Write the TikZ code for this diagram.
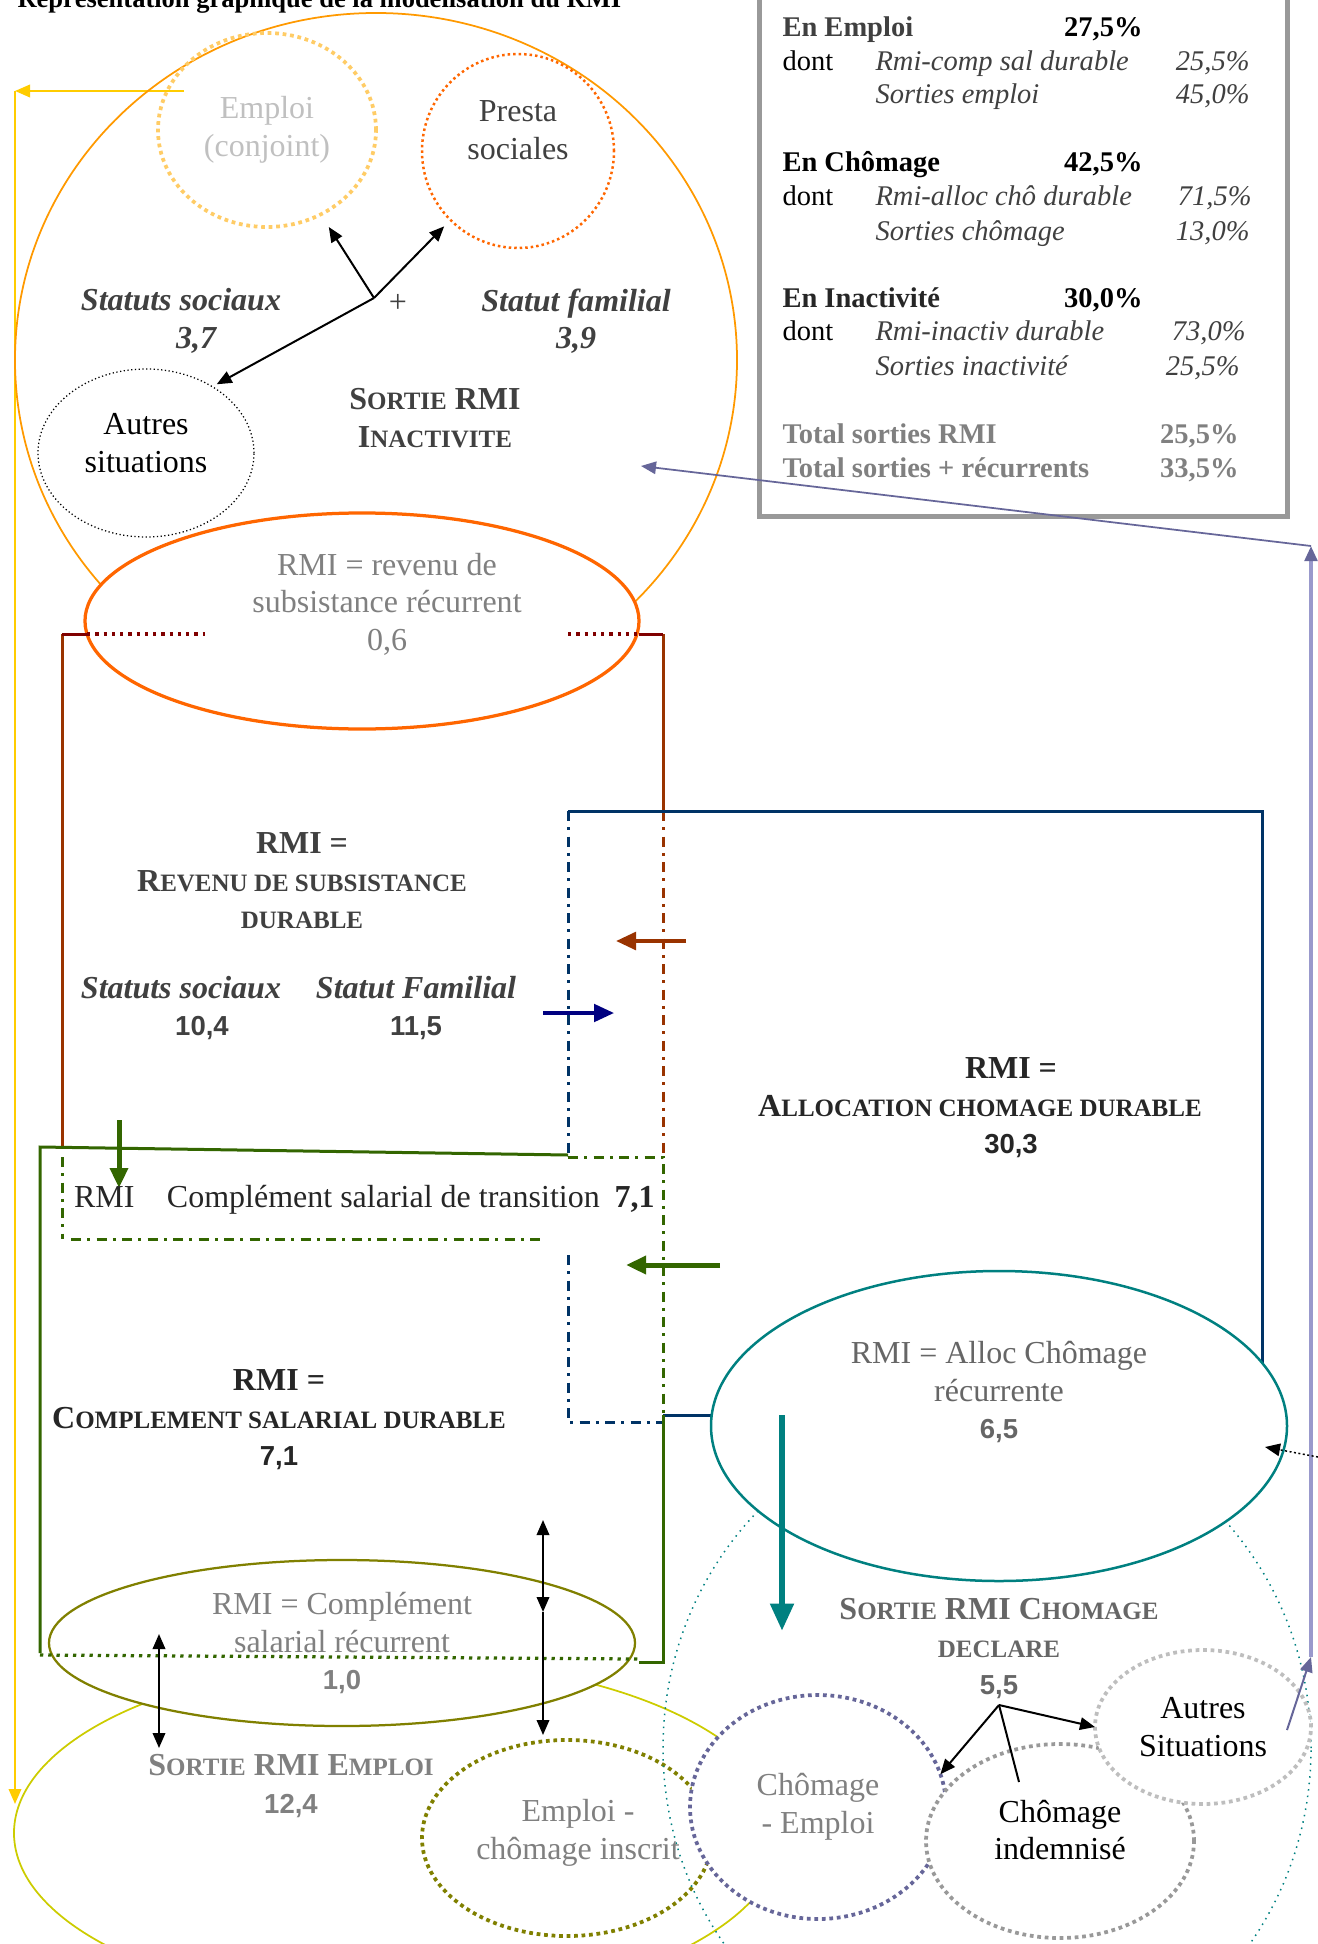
\documentclass[tikz,border=0pt]{standalone}
\usepackage{fontspec}
\setmainfont{Liberation Serif}
\setsansfont{Liberation Sans}
\usetikzlibrary{shapes.geometric,arrows.meta,positioning,calc}
\definecolor{dark}{RGB}{64,64,64}
\definecolor{ink}{RGB}{38,38,38}
\definecolor{mid}{RGB}{128,128,128}
\definecolor{grey6}{RGB}{102,102,102}
\definecolor{palegray}{RGB}{192,192,192}
\definecolor{orangeline}{RGB}{255,153,0}
\definecolor{paleorange}{RGB}{255,204,102}
\definecolor{redline}{RGB}{255,102,0}
\definecolor{brownline}{RGB}{153,51,0}
\definecolor{maroonline}{RGB}{128,0,0}
\definecolor{navyline}{RGB}{0,51,102}
\definecolor{deepblue}{RGB}{0,0,128}
\definecolor{leaf}{RGB}{51,102,0}
\definecolor{oliveline}{RGB}{128,128,0}
\definecolor{yellowline}{RGB}{204,204,0}
\definecolor{gold}{RGB}{255,204,0}
\definecolor{tealline}{RGB}{0,128,128}
\definecolor{lavender}{RGB}{102,102,153}
\definecolor{palelav}{RGB}{153,153,204}
\definecolor{frame}{RGB}{153,153,153}
\definecolor{greyC}{RGB}{190,190,190}
\newcommand{\petit}[1]{{\fontsize{10}{12}\selectfont #1}}
\newcommand{\chiffre}[1]{{\fontsize{11}{13}\selectfont\sffamily\bfseries\upshape #1}}

\begin{document}
\begin{tikzpicture}[
    x=0.4pt, y=-0.4pt,
    >={Triangle[length=6pt,width=5pt]},
    radii/.style 2 args={minimum width=#1*0.8pt, minimum height=#2*0.8pt},
    bubble/.style={ellipse, inner sep=0pt, outer sep=0pt, align=center,
        font=\fontsize{12.8}{15}\selectfont},
    ring/.style={bubble, line width=1.5pt, dash pattern=on 1.5pt off 1.5pt},
    body/.style={align=center, inner sep=1pt, font=\fontsize{12.8}{15}\selectfont},
    head/.style={body, font=\fontsize{12.8}{15}\selectfont\bfseries},
    status/.style={body, font=\fontsize{12.8}{15}\selectfont\bfseries\itshape, text=dark},
    cell/.style={anchor=base west, inner sep=0pt, font=\fontsize{11.4}{13}\selectfont},
    cellb/.style={cell, font=\fontsize{11.4}{13}\selectfont\bfseries},
    celli/.style={cell, font=\fontsize{11.4}{13}\selectfont\itshape, text=dark},
    flow/.style={->, line width=0.8pt},
    bold arrow/.style={-{Triangle[length=8pt,width=7pt]}, line width=2pt},
    boxline/.style={line width=1.2pt},
    dashdot/.style={line width=1.2pt, dash pattern=on 4pt off 2.5pt on 1.2pt off 2.5pt}
]
\useasboundingbox (0,0) rectangle (1318,1944);
\clip (0,0) rectangle (1318,1944);

\node[anchor=base west, inner sep=0pt, font=\fontsize{10.6}{12}\selectfont\bfseries]
    (title) at (17,8) {Représentation graphique de la modélisation du RMI};

% Renvoi vers la sortie emploi
\coordinate (gold0) at (184,91);
\coordinate (gold1) at (15,91);
\coordinate (gold2) at (15,1804);
\draw[flow, gold] (gold0) -- (gold1);
\draw[flow, gold] (gold1) -- (gold2);

% Sortie RMI inactivite
\node[bubble, radii={361}{347}, draw=orangeline, line width=0.7pt] (inact) at (376,360) {};
\node[ring, radii={109}{97}, draw=paleorange, text=palegray] (conjoint) at (267,130) {Emploi\\(conjoint)};
\node[bubble, radii={96}{97}, draw=redline, line width=1pt, dash pattern=on 1pt off 1.2pt] (presta) at (518,151) {};
\node[body, text=dark] (prestatxt) at ([yshift=8.4pt]presta.center) {Presta\\sociales};
\node[bubble, radii={108}{84}, draw, line width=0.5pt, densely dotted] (autres) at (146,453) {};
\node[body] (autrestxt) at ([yshift=4pt]autres.center) {Autres\\situations};

\coordinate (j1) at (374,298);
\draw[flow, shorten >=6pt] (j1) -- (conjoint);
\draw[flow, shorten >=3.6pt] (j1) -- (presta);
\draw[flow, shorten >=2pt] (j1) -- (autres.45);
\node[body, text=dark] (plus) at (398,303) {+};

\node[status] (statsoc) at (181,321) {Statuts sociaux\\\hspace*{12pt}3,7};
\node[status] (statfam) at (576,321) {Statut familial\\3,9};
\node[head, text=dark] (inacttxt) at (435,418) {S\petit{ORTIE} RMI\\I\petit{NACTIVITE}};

% Tableau recapitulatif
\draw[frame, line width=2pt] (759,-20) rectangle (1287,516);
\node[cellb, text=dark] (enemp) at (782,37) {En Emploi};
\node[cellb, anchor=base east] (enempv) at (1143,37) {27,5\%};
\node[cell] (dont1) at (782,71) {dont};
\node[celli] (rmicomp) at (875,71) {Rmi-comp sal durable};
\node[celli, anchor=base east] (rmicompv) at (1250,71) {25,5\%};
\node[celli] (sortemp) at (875,104) {Sorties emploi};
\node[celli, anchor=base east] (sortempv) at (1250,104) {45,0\%};
\node[cellb] (encho) at (782,172) {En Chômage};
\node[cellb, anchor=base east] (enchov) at (1143,172) {42,5\%};
\node[cell] (dont2) at (782,206) {dont};
\node[celli] (rmialloc) at (875,206) {Rmi-alloc chô durable};
\node[celli, anchor=base east] (rmiallocv) at (1252,206) {71,5\%};
\node[celli] (sortcho) at (875,241) {Sorties chômage};
\node[celli, anchor=base east] (sortchov) at (1250,241) {13,0\%};
\node[cellb, text=ink] (eninact) at (782,308) {En Inactivité};
\node[cellb, anchor=base east] (eninactv) at (1143,308) {30,0\%};
\node[cell] (dont3) at (782,341) {dont};
\node[celli] (rmiinact) at (875,341) {Rmi-inactiv durable};
\node[celli, anchor=base east] (rmiinactv) at (1246,341) {73,0\%};
\node[celli] (sortinact) at (875,376) {Sorties inactivité};
\node[celli, anchor=base east] (sortinactv) at (1240,376) {25,5\%};
\node[cellb, text=mid] (totrmi) at (782,443) {Total sorties RMI};
\node[cellb, text=mid, anchor=base east] (totrmiv) at (1239,443) {25,5\%};
\node[cellb, text=mid] (totrec) at (782,477) {Total sorties + récurrents};
\node[cellb, text=mid, anchor=base east] (totrecv) at (1239,477) {33,5\%};

% Revenu de subsistance durable
\coordinate (rsTL) at (62,634);
\coordinate (rsTR) at (663,634);
\coordinate (rsBL) at (62,1147);
\coordinate (acTL) at (568,811);
\coordinate (acTR) at (1262,811);
\draw[boxline, brownline] (rsTL) -- (rsBL);
\draw[boxline, brownline] (rsTR) -- (rsTR |- acTL);
\draw[dashdot, brownline] (rsTR |- acTL) -- (663,1153);

\node[bubble, radii={277}{108}, draw=redline, line width=1.3pt, fill=white] (recur1) at (362,621) {};
\draw[boxline, maroonline] (rsTL) -- (87,634);
\draw[maroonline, line width=1.3pt, dotted] (87,634) -- (205,634);
\draw[maroonline, line width=1.3pt, dotted] (568,634) -- (639,634);
\draw[boxline, maroonline] (639,634) -- (rsTR);
\node[body, text=mid] (recur1txt) at ([xshift=10pt, yshift=6.8pt]recur1.center)
    {RMI = revenu de\\subsistance récurrent\\0,6};

% Allocation chomage durable
\draw[boxline, navyline] (acTL) -- (acTR) -- (1262,1380);
\draw[dashdot, navyline] (acTL) -- (568,1153);
\draw[dashdot, navyline] (568,1255) -- (568,1422) -- (663,1422);
\draw[boxline, navyline] (663,1415) -- (730,1415);

% Complement salarial
\draw[boxline, leaf] (568,1155) -- (40,1147) -- (40,1653);
\draw[boxline, leaf] (663,1415) -- (663,1662) -- (639,1662);
\draw[dashdot, leaf] (568,1157) -- (663,1157) -- (663,1415);
\draw[dashdot, leaf] (62,1157) -- (62,1239);
\draw[dashdot, leaf] (71,1239) -- (546,1239);

% Passages entre regimes
\coordinate (brs) at (686,941);
\coordinate (bre) at (616,941);
\coordinate (nvs) at (543,1013);
\coordinate (nve) at (614,1013);
\coordinate (grs) at (720,1265);
\coordinate (gre) at (626,1265);
\coordinate (gds) at (119,1120);
\coordinate (gde) at (119,1188);
\draw[bold arrow, brownline, line width=1.6pt] (brs) -- (bre);
\draw[bold arrow, deepblue, line width=1.4pt] (nvs) -- (nve);
\draw[bold arrow, leaf] (grs) -- (gre);
\draw[bold arrow, leaf] (gds) -- (gde);

\node[head, text=dark] (rsd) at (302,881) {RMI =\\R\petit{EVENU DE SUBSISTANCE}\\\petit{DURABLE}};
\node[status] (statsoc2) at (181,1008) {Statuts sociaux\\\hspace*{16.8pt}\chiffre{10,4}};
\node[status] (statfam2) at (416,1008) {Statut Familial\\\chiffre{11,5}};
\node[head, text=ink] (acd) at (980,1108)
    {\hspace*{24.8pt}RMI =\\A\petit{LLOCATION CHOMAGE DURABLE}\\\hspace*{24.8pt}\chiffre{30,3}};
\node[body, anchor=west, text=ink] (trans) at (71,1200)
    {RMI\hspace{13pt}Complément salarial de transition\hspace{6pt}\textbf{7,1}};
\node[head, text=ink] (csd) at (279,1420) {RMI =\\C\petit{OMPLEMENT SALARIAL DURABLE}\\\chiffre{7,1}};

% Sortie RMI emploi
\node[bubble, radii={384}{173}, draw=yellowline, line width=0.7pt] (empexit) at (398,1833) {};
\node[bubble, radii={293}{83}, draw=oliveline, line width=0.9pt, fill=white, text=mid]
    (recur3) at (342,1643) {RMI = Complément\\salarial récurrent\\\chiffre{1,0}};
\draw[leaf, line width=1.3pt, dotted] (40,1655) -- (639,1659);

\coordinate (da0) at (159,1634);
\coordinate (da1) at (159,1748);
\coordinate (db0) at (543,1520);
\coordinate (db1) at (543,1612);
\coordinate (db2) at (543,1735);
\draw[<->, line width=0.8pt] (da0) -- (da1);
\draw[<->, line width=0.8pt] (db0) -- (db1);
\draw[flow] (db1) -- (db2);

\node[head, text=mid] (empexittxt) at (291,1786) {S\petit{ORTIE} RMI E\petit{MPLOI}\\\chiffre{12,4}};
\node[ring, radii={145}{98}, draw=oliveline, fill=white] (empcho) at (567,1838) {};

% Sortie RMI chomage declare
\node[bubble, radii={324}{335}, draw=tealline, line width=0.6pt, dotted] (choexit) at (987,1748) {};
\node[bubble, radii={288}{155}, draw=tealline, line width=1pt, fill=white] (recur2) at (999,1426) {};
\node[body, text=grey6] (recur2txt) at ([yshift=13.6pt]recur2.center)
    {RMI = Alloc Chômage\\récurrente\\\chiffre{6,5}};
\coordinate (tl0) at (782,1415);
\coordinate (tl1) at (782,1631);
\draw[-{Triangle[length=11pt,width=9pt]}, line width=2.6pt, tealline] (tl0) -- (tl1);
\node[head, text=grey6] (choexittxt) at (999,1649) {S\petit{ORTIE} RMI C\petit{HOMAGE}\\\petit{DECLARE}\\\chiffre{5,5}};

\node[ring, radii={128}{112}, draw=lavender, fill=white, text=mid] (choemp) at (818,1807) {Chômage\\- Emploi};
\node[body, text=mid] (empchotxt) at ([xshift=4.4pt, yshift=2pt]empcho.center) {Emploi -\\chômage inscrit};
\node[ring, radii={134}{97}, draw=frame, fill=white] (indemn) at (1060,1841) {};
\node[body] (indemntxt) at ([yshift=4.4pt]indemn.center) {Chômage\\indemnisé};
\node[ring, radii={108}{77}, draw=greyC, fill=white] (autres2) at (1203,1727) {Autres\\Situations};

\coordinate (j2) at (999,1705);
\coordinate (j2c) at (1019,1782);
\draw[flow] (j2) -- (choemp.15);
\draw[flow] (j2) -- (autres2.west);
\draw[line width=0.8pt] (j2) -- (j2c);

% Retour vers l'inactivite
\coordinate (lv0) at (1287,1730);
\coordinate (lv1) at (1311,1657);
\coordinate (lv2) at (1311,546);
\coordinate (lv3) at (641,466);
\draw[flow, lavender] (lv0) -- (lv1);
\draw[-{Triangle[length=6pt,width=5pt,color=lavender]}, palelav, line width=1.4pt] (lv1) -- (lv2);
\draw[flow, lavender, line width=0.7pt] (lv2) -- (lv3);

\coordinate (rim) at (1318,1457);
\coordinate (rimtip) at (1265,1447);
\draw[flow, densely dotted, line width=0.6pt] (rim) -- (rimtip);

\end{tikzpicture}
\end{document}
